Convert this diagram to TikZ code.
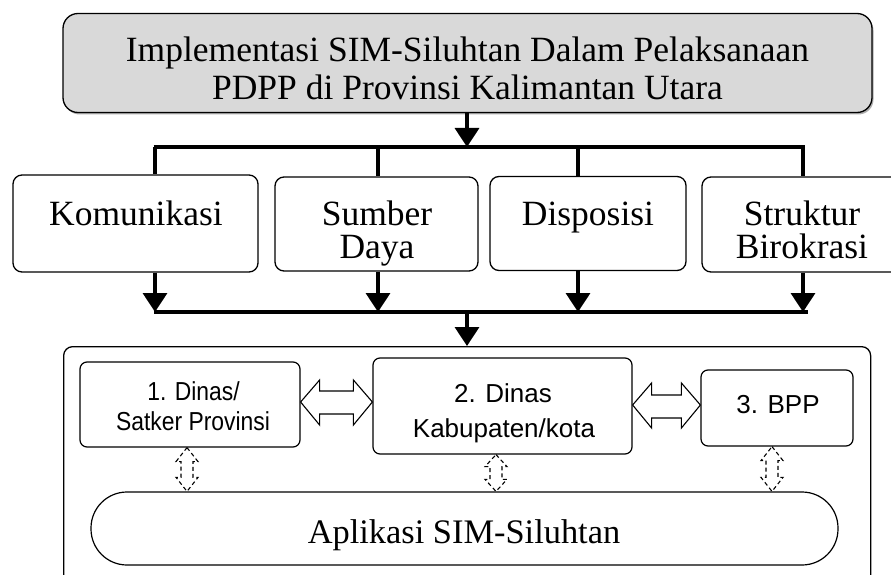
\documentclass[tikz,border=0pt]{standalone}
\usepackage{fontspec}
\setmainfont{Liberation Serif}
\newfontfamily\sansf{Liberation Sans}
\newfontfamily\sansc[FakeStretch=0.88]{Liberation Sans}
\usetikzlibrary{arrows.meta,calc,shadows}
\begin{document}
\begin{tikzpicture}[x=1pt,y=-1pt,
  box/.style={draw, line width=1.3pt, rounded corners=9pt, inner sep=0pt},
  sbox/.style={draw, line width=1.2pt, rounded corners=7pt, inner sep=0pt},
  serif/.style={font=\fontsize{35.5}{38}\selectfont, anchor=base, inner sep=0pt},
  sans/.style={font=\sansc\fontsize{26}{30}\selectfont, anchor=base, inner sep=0pt},
  sansl/.style={font=\sansf\fontsize{26}{30}\selectfont, anchor=base, inner sep=0pt},
  conn/.style={line width=3.2pt},
  arr/.style={line width=3.5pt, -{Triangle[width=24pt,length=19pt]}},
  dbl/.style={draw, line width=1.1pt, fill=white, line join=miter},
  ddbl/.style={draw, line width=1.1pt, dashed, dash pattern=on 4pt off 3pt},
]
\useasboundingbox (0,0) rectangle (891,575);

% top box
\node[box, fill=gray!30, rounded corners=15pt, minimum width=809pt, minimum height=99pt,
  drop shadow={shadow xshift=1.5pt, shadow yshift=-2pt, fill=gray!80, opacity=0.8}]
  (top) at (467.5,63) {};
\node[serif] (toptxt1) at (467.5,62) {Implementasi SIM-Siluhtan Dalam Pelaksanaan};
\node[serif] (toptxt2) at (467.5,100) {PDPP di Provinsi Kalimantan Utara};

% second row boxes
\node[box, minimum width=245pt, minimum height=97pt] (kom) at (135.5,223.5) {};
\node[box, minimum width=203pt, minimum height=94pt] (sd) at (376.5,224) {};
\node[box, minimum width=196pt, minimum height=94pt] (dis) at (588,223.5) {};
\node[box, minimum width=222pt, minimum height=95pt] (sb) at (813,224.5) {};
\node[serif] (komt) at (136,225) {Komunikasi};
\node[serif] (sdt1) at (377,225) {Sumber};
\node[serif] (sdt2) at (377,258) {Daya};
\node[serif] (dist) at (588,225) {Disposisi};
\node[serif] (sbt1) at (802,225) {Struktur};
\node[serif] (sbt2) at (802,258) {Birokrasi};

% distribution bar
\coordinate (j1) at (467,147);
\coordinate (d1) at (155,147);
\coordinate (d2) at (378,147);
\coordinate (d3) at (578,147);
\coordinate (d4) at (803,147);
\draw[arr] (top.south -| j1) -- (j1);
\draw[conn] ($(d1)+(-1.5,0)$) -- ($(d4)+(1.5,0)$);
\draw[conn] (d1) -- (d1 |- kom.north);
\draw[conn] (d2) -- (d2 |- sd.north);
\draw[conn] (d3) -- (d3 |- dis.north);
\draw[conn] (d4) -- (d4 |- sb.north);

% merge bar
\coordinate (m1) at (155,312);
\coordinate (m2) at (378,312);
\coordinate (m3) at (578,312);
\coordinate (m4) at (803,312);
\coordinate (mj) at (467,312);
\draw[arr] (m1 |- kom.south) -- (m1);
\draw[arr] (m2 |- sd.south) -- (m2);
\draw[arr] (m3 |- dis.south) -- (m3);
\draw[arr] (m4 |- sb.south) -- (m4);
\draw[conn] ($(m1)+(-1.5,0)$) -- ($(m4)+(5,0)$);

% outer box
\node[box, minimum width=807pt, minimum height=260pt, anchor=north west] (outer) at (63,346) {};
\draw[arr] (mj) -- (mj |- outer.north);

% inner boxes
\node[sbox, minimum width=220pt, minimum height=85pt] (b1) at (190,404.5) {};
\node[sbox, minimum width=259pt, minimum height=96pt] (b2) at (502.5,406) {};
\node[sbox, minimum width=152pt, minimum height=76pt] (b3) at (777,408) {};
\node[sans] (b1t1) at (193.5,400) {1. Dinas/};
\node[sans] (b1t2) at (193,430) {Satker Provinsi};
\node[sansl] (b2t1) at (503,402) {2. Dinas};
\node[sansl] (b2t2) at (504,437) {Kabupaten/kota};
\node[sansl] (b3t) at (778,413) {3. BPP};

% application pill
\node[draw, line width=1.2pt, rounded corners=36pt, minimum width=747pt, minimum height=73pt,
  inner sep=0pt] (app) at (464.5,528.5) {};
\node[serif, font=\fontsize{34.4}{36}\selectfont] (appt) at (464,543) {Aplikasi SIM-Siluhtan};

% horizontal double arrows
\draw[dbl] (b1.east |- 0,402) -- ++(19,-22) -- ++(0,11) -- ($(b2.west |- 0,391)+(-19,0)$)
  -- ++(0,-11) -- (b2.west |- 0,402) -- ++(-19,23) -- ++(0,-11)
  -- ($(b1.east |- 0,414)+(19,0)$) -- ++(0,11) -- cycle;
\draw[dbl] (b2.east |- 0,405) -- ++(19,-22) -- ++(0,12) -- ($(b3.west |- 0,395)+(-19,0)$)
  -- ++(0,-12) -- (b3.west |- 0,405) -- ++(-19,23) -- ++(0,-10)
  -- ($(b2.east |- 0,418)+(19,0)$) -- ++(0,10) -- cycle;

% vertical dashed double arrows
\draw[ddbl] (b1.south -| 187,0) -- ++(11,14) -- ++(-5,0) -- ($(app.north -| 187,0)+(6,-14)$)
  -- ++(5,0) -- (app.north -| 187,0) -- ++(-11,-14) -- ++(5,0)
  -- ($(b1.south -| 187,0)+(-6,14)$) -- ++(-5,0) -- cycle;
\draw[ddbl] (b2.south -| 496,0) -- ++(11,12) -- ++(-5,0) -- ($(app.north -| 496,0)+(6,-12)$)
  -- ++(5,0) -- (app.north -| 496,0) -- ++(-11,-12) -- ++(5,0)
  -- ($(b2.south -| 496,0)+(-6,12)$) -- ++(-5,0) -- cycle;
\draw[ddbl] (b3.south -| 772,0) -- ++(11,14) -- ++(-5,0) -- ($(app.north -| 772,0)+(6,-14)$)
  -- ++(5,0) -- (app.north -| 772,0) -- ++(-11,-14) -- ++(5,0)
  -- ($(b3.south -| 772,0)+(-6,14)$) -- ++(-5,0) -- cycle;
\end{tikzpicture}
\end{document}
